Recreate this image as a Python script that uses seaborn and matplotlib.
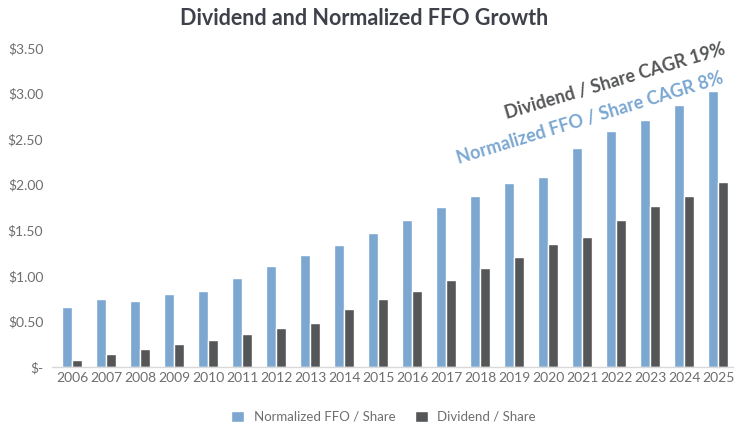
import pandas as pd
import seaborn as sns
import matplotlib.pyplot as plt
from matplotlib.ticker import FuncFormatter

years = [str(y) for y in range(2006, 2026)]
ffo = [0.66, 0.75, 0.72, 0.80, 0.83, 0.97, 1.11, 1.23, 1.34, 1.47,
       1.61, 1.75, 1.88, 2.02, 2.09, 2.40, 2.59, 2.71, 2.88, 3.03]
dividend = [0.07, 0.14, 0.19, 0.25, 0.29, 0.36, 0.43, 0.48, 0.64, 0.74,
            0.83, 0.95, 1.08, 1.21, 1.35, 1.43, 1.61, 1.77, 1.88, 2.03]
series = ["Normalized FFO / Share", "Dividend / Share"]

df = pd.DataFrame({"year": years * 2,
                   "value": ffo + dividend,
                   "series": [series[0]] * len(years) + [series[1]] * len(years)})

sns.set_theme(style="white")
plt.rcParams["font.family"] = ["Lato", "DejaVu Sans"]

blue = "#7ba7d1"
dark = "#555658"
tick_grey = "#6e6e6e"

fig = plt.figure(figsize=(7.37, 4.30), dpi=100)
ax = fig.add_axes([0.07, 0.147, 0.925, 0.741])

sns.barplot(data=df, x="year", y="value", hue="series", palette=[blue, dark],
            width=0.58, saturation=1, ax=ax)

ax.set_ylim(0, 3.5)
ax.set_xlim(-0.6, 19.45)
ax.set_yticks([0, 0.5, 1, 1.5, 2, 2.5, 3, 3.5])
ax.yaxis.set_major_formatter(FuncFormatter(lambda v, p: "$-" if v == 0 else f"${v:.2f}"))
ax.set_xlabel("")
ax.set_ylabel("")
ax.tick_params(axis="both", colors=tick_grey, labelsize=10, length=0, pad=4)
ax.tick_params(axis="y", pad=6)
for s in ["top", "right", "left"]:
    ax.spines[s].set_visible(False)
ax.spines["bottom"].set_color("#d9d9d9")
ax.spines["bottom"].set_linewidth(1)

ax.legend(loc="upper center", bbox_to_anchor=(0.487, -0.10), ncol=2, frameon=False,
          fontsize=9.5, labelcolor=tick_grey, handlelength=1.0, handleheight=1.0,
          columnspacing=1.5, handletextpad=0.7)

fig.text(0.494, 0.958, "Dividend and Normalized FFO Growth", ha="center", va="center",
         fontsize=15.5, fontweight="bold", color="#3e414a")

fig.text(0.835, 0.81, "Dividend / Share CAGR 19%", ha="center", va="center",
         rotation=16.5, fontsize=13, fontweight="bold", color="#555658")
fig.text(0.8, 0.725, "Normalized FFO / Share CAGR 8%", ha="center", va="center",
         rotation=17, fontsize=13, fontweight="bold", color=blue)

fig.savefig("out.png", dpi=100)
